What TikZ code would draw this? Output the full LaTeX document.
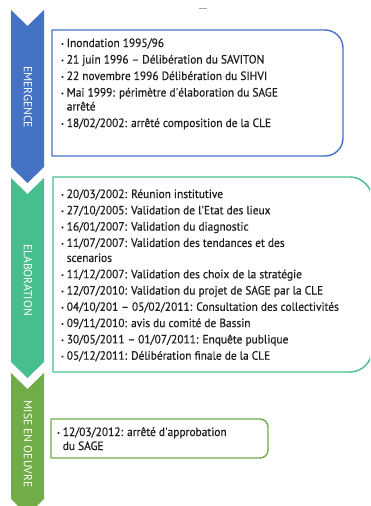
\documentclass[tikz,border=0pt]{standalone}
\usepackage{fontspec}
\setmainfont{PT Sans}[FakeStretch=0.95,FakeBold=0.6]
\newfontfamily\labfont{PT Sans}
\definecolor{cblue}{HTML}{4472C4}
\definecolor{cteal}{HTML}{47BE8D}
\definecolor{cgreen}{HTML}{70AD47}
\definecolor{ctext}{HTML}{1E1E1E}
\newcommand{\bulitem}{\raisebox{1.2pt}{\fontsize{6}{6}\selectfont •}}
\tikzset{
  chev/.style={fill=#1, draw=none},
  lab/.style={text=white, rotate=-90, font=\labfont\fontsize{11.6}{13}\selectfont, inner sep=0pt},
  boxline/.style={draw=#1, line width=1.4pt, line join=round},
  txt/.style={text=ctext, inner sep=0pt, font=\fontsize{12}{14}\selectfont, anchor=base west},
}
\begin{document}
\begin{tikzpicture}[x=1pt,y=-1pt]
\useasboundingbox (0,0) rectangle (370,506);
\clip (0,0) rectangle (370,506);
% small mark at top
\draw[gray!70, line width=1pt] (199,8) -- (207,8);
% chevrons
\fill[chev=cblue] (11,10) -- (27.5,26) -- (44,10) -- (44,167) -- (27.5,183) -- (11,167) -- cycle;
\fill[chev=cteal] (11,178) -- (27.5,194) -- (44,178) -- (44,362) -- (27.5,378) -- (11,362) -- cycle;
\fill[chev=cgreen] (11,373) -- (27.5,389) -- (44,373) -- (44,499) -- (27.5,515) -- (11,499) -- cycle;
\node[lab] (l1) at (28,97) {EMERGENCE};
\node[lab] (l2) at (28,280) {ELABORATION};
\node[lab] (l3) at (28,444) {MISE EN OEUVRE};
% boxes
\draw[boxline=cblue] (52,30) -- (325,30) .. controls (335,30) and (343,38) .. (343,48)
  -- (343,138) .. controls (343,148) and (335,156) .. (325,156) -- (52,156) -- cycle;
\draw[boxline=cteal] (53,177) -- (350,177) .. controls (362,177) and (372,187) .. (372,199)
  -- (372,350) .. controls (372,362) and (362,372) .. (350,372) -- (53,372) -- cycle;
\draw[boxline=cgreen] (51,419) -- (260,419) .. controls (264.5,419) and (268,422.5) .. (268,427)
  -- (268,450) .. controls (268,454.5) and (264.5,458) .. (260,458) -- (51,458) -- cycle;
% texts
\node[txt] (t1) at (61,47) {\begin{tabular}[t]{@{}l@{\hspace{3pt}}l@{}}
\bulitem & Inondation 1995/96\\[2.5pt]
\bulitem & 21 juin 1996 – Délibération du SAVITON\\[2.5pt]
\bulitem & 22 novembre 1996 Délibération du SIHVI\\[2.5pt]
\bulitem & Mai 1999: périmètre d\textquotesingle élaboration du SAGE\\
 & arrêté\\[2.5pt]
\bulitem & 18/02/2002: arrêté composition de la CLE
\end{tabular}};
\node[txt] (t2) at (61,198) {\begin{tabular}[t]{@{}l@{\hspace{3pt}}l@{}}
\bulitem & 20/03/2002: Réunion institutive\\[2.3pt]
\bulitem & 27/10/2005: Validation de l\textquotesingle Etat des lieux\\[2.3pt]
\bulitem & 16/01/2007: Validation du diagnostic\\[2.3pt]
\bulitem & 11/07/2007: Validation des tendances et des\\[1pt]
 & scenarios\\[2.3pt]
\bulitem & 11/12/2007: Validation des choix de la stratégie\\[2.3pt]
\bulitem & 12/07/2010: Validation du projet de SAGE par la CLE\\[2.3pt]
\bulitem & 04/10/201 – 05/02/2011: Consultation des collectivités\\[2.3pt]
\bulitem & 09/11/2010: avis du comité de Bassin\\[2.3pt]
\bulitem & 30/05/2011 – 01/07/2011: Enquête publique\\[2.3pt]
\bulitem & 05/12/2011: Délibération finale de la CLE
\end{tabular}};
\node[txt] (t3) at (57,436) {\begin{tabular}[t]{@{}l@{\hspace{3pt}}l@{}}
\bulitem & 12/03/2012: arrêté d\textquotesingle approbation\\
 & du SAGE
\end{tabular}};
\end{tikzpicture}
\end{document}
